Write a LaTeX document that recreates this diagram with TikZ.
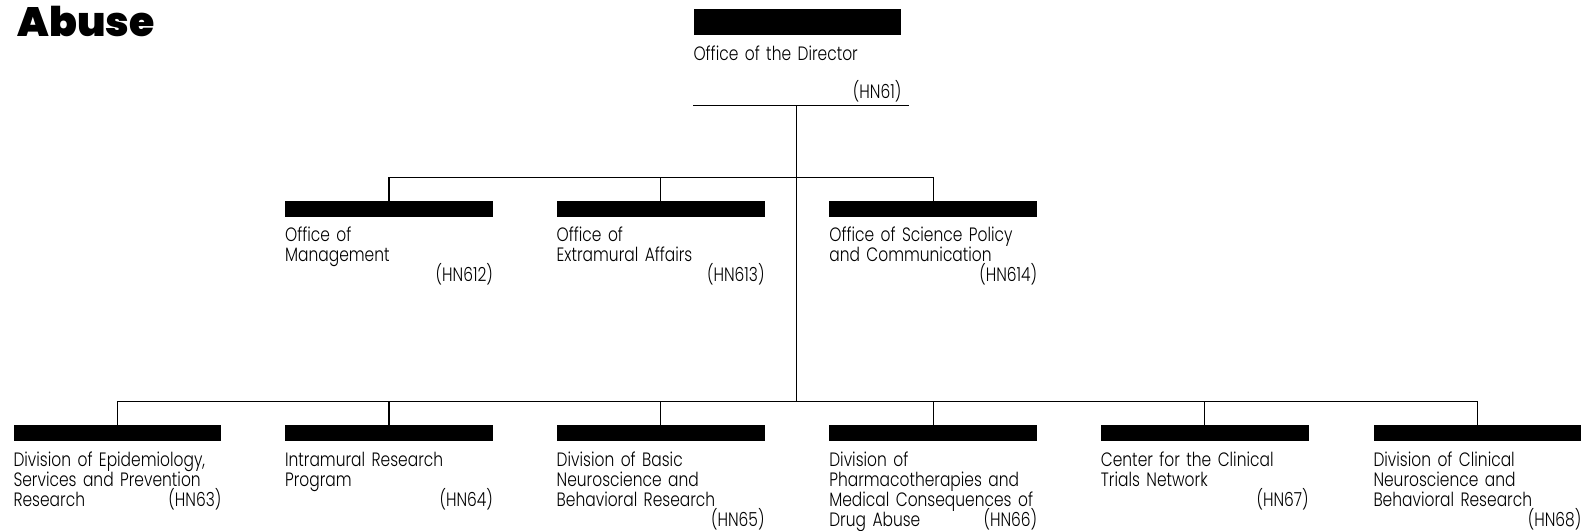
\documentclass[tikz,border=0pt]{standalone}
\usepackage{fontspec}
\setmainfont{Poppins}[UprightFont=* Light,FakeStretch=0.8]
\newfontfamily\titlefont{Poppins Black}
\begin{document}
\begin{tikzpicture}[x=0.02027cm,y=-0.02027cm]
	\tikzset{bar/.style = {fill=black,inner sep=0,anchor=north west,minimum width=4.155cm,minimum height=0.324cm}}
	\tikzset{unit/.style = {anchor=north west,inner sep=0,text width=4.155cm,align=left,font=\fontsize{11}{11.3}\selectfont,
		execute at begin node={\baselineskip=11.3pt\lineskiplimit=-20pt\lineskip=0pt}}}
	\tikzset{link/.style = {draw,line width=0.75pt}}
	\useasboundingbox (0,0) rectangle (1568,523);
	\node[anchor=base west,inner sep=0,font=\titlefont\fontsize{23.3}{23.3}\selectfont] (title) at (17,36) {Abuse};
	% director
	\node[bar,minimum height=0.507cm] (dir) at (684,9) {};
	\node[unit] (dirtext) at (684,45) {Office of the Director\\[10.5pt]\mbox{}\hfill(HN61)};
	\coordinate (dirl) at (684,104);
	\coordinate (dirr) at (897,104);
	\coordinate (trunk) at (786,104);
	\coordinate (bus) at (786,175);
	\coordinate (hub) at (786,396);
	\draw[link] (dirl) -- (dirr);
	\draw[link] (trunk) -- (hub);
	% offices
	\node[bar] (om) at (281,198) {};
	\node[bar] (ea) at (549,198) {};
	\node[bar] (sp) at (818,198) {};
	\node[unit] (omtext) at (281,224) {Office of\\Management\\\mbox{}\hfill(HN612)};
	\node[unit] (eatext) at (549,224) {Office of\\Extramural Affairs\\\mbox{}\hfill(HN613)};
	\node[unit] (sptext) at (818,224) {Office of Science Policy\\and Communication\\\mbox{}\hfill(HN614)};
	\draw[link] (om.north) |- (bus) -| (sp.north);
	\draw[link] (ea.north) -- (ea.north |- bus);
	% divisions
	\node[bar] (ep) at (13,419) {};
	\node[bar] (ir) at (281,419) {};
	\node[bar] (bn) at (549,419) {};
	\node[bar] (ph) at (818,419) {};
	\node[bar] (ct) at (1086,419) {};
	\node[bar] (cn) at (1355,419) {};
	\node[unit] (eptext) at (13,446) {Division of Epidemiology,\\Services and Prevention\\Research\hfill(HN63)};
	\node[unit] (irtext) at (281,446) {Intramural Research\\Program\\\mbox{}\hfill(HN64)};
	\node[unit] (bntext) at (549,446) {Division of Basic\\Neuroscience and\\Behavioral Research\\\mbox{}\hfill(HN65)};
	\node[unit] (phtext) at (818,446) {Division of\\Pharmacotherapies and\\Medical Consequences of\\Drug Abuse\hfill(HN66)};
	\node[unit] (cttext) at (1086,446) {Center for the Clinical\\Trials Network\\\mbox{}\hfill(HN67)};
	\node[unit] (cntext) at (1355,446) {Division of Clinical\\Neuroscience and\\Behavioral Research\\\mbox{}\hfill(HN68)};
	\draw[link] (ep.north) |- (hub) -| (cn.north);
	\draw[link] (ir.north) -- (ir.north |- hub);
	\draw[link] (bn.north) -- (bn.north |- hub);
	\draw[link] (ph.north) -- (ph.north |- hub);
	\draw[link] (ct.north) -- (ct.north |- hub);
\end{tikzpicture}
\end{document}
